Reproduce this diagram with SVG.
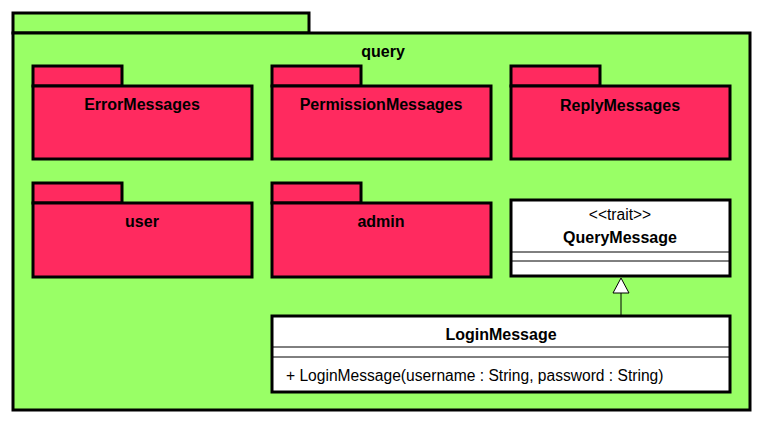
<svg xmlns="http://www.w3.org/2000/svg" width="764" height="426" viewBox="0 0 764 426">
<style>
.pkg{fill:#99ff66;stroke:#000;stroke-width:3}
.sub{fill:#ff2a5f;stroke:#000;stroke-width:3}
.cls{fill:#fff;stroke:#000;stroke-width:3}
.sep{stroke:#000;stroke-width:1}
.b{font-family:"Liberation Sans",Arial,sans-serif;font-weight:bold;font-size:16px;text-anchor:middle}
.n{font-family:"Liberation Sans",Arial,sans-serif;font-size:15.6px}
</style>
<rect width="764" height="426" fill="#fff"/>
<g id="query">
<rect class="pkg" x="13" y="13" width="296" height="20"/>
<rect class="pkg" x="13" y="33" width="737" height="377"/>
<text class="b" x="383" y="57">query</text>
</g>
<g id="ErrorMessages">
<rect class="sub" x="33" y="66" width="89" height="20"/>
<rect class="sub" x="33" y="86" width="219" height="73"/>
<text class="b" x="142" y="110">ErrorMessages</text>
</g>
<g id="PermissionMessages">
<rect class="sub" x="272" y="66" width="89" height="20"/>
<rect class="sub" x="272" y="86" width="219" height="73"/>
<text class="b" x="381" y="110">PermissionMessages</text>
</g>
<g id="ReplyMessages">
<rect class="sub" x="511" y="66" width="89" height="20"/>
<rect class="sub" x="511" y="86" width="219" height="73"/>
<text class="b" x="620" y="111">ReplyMessages</text>
</g>
<g id="user">
<rect class="sub" x="33" y="183" width="89" height="20"/>
<rect class="sub" x="33" y="203" width="219" height="74"/>
<text class="b" x="142" y="227">user</text>
</g>
<g id="admin">
<rect class="sub" x="272" y="183" width="89" height="20"/>
<rect class="sub" x="272" y="203" width="219" height="74"/>
<text class="b" x="381" y="227">admin</text>
</g>
<g id="QueryMessage">
<rect class="cls" x="511" y="200" width="219" height="76"/>
<text class="n" x="620" y="220" text-anchor="middle" font-size="14.6">&lt;&lt;trait&gt;&gt;</text>
<text class="b" x="620" y="243">QueryMessage</text>
<line class="sep" x1="511" y1="252" x2="730" y2="252"/>
<line class="sep" x1="511" y1="261" x2="730" y2="261"/>
</g>
<g id="LoginMessage">
<rect class="cls" x="272" y="316" width="458" height="76"/>
<text class="b" x="501" y="340">LoginMessage</text>
<line class="sep" x1="272" y1="347" x2="730" y2="347"/>
<line class="sep" x1="272" y1="357" x2="730" y2="357"/>
<text class="n" x="286" y="381">+ LoginMessage(username : String, password : String)</text>
</g>
<g id="connectors">
<line x1="621" y1="316" x2="621" y2="293" stroke="#000" stroke-width="1"/>
<polygon points="621,278 613,293 629,293" fill="#fff" stroke="#000" stroke-width="1"/>
</g>
</svg>
